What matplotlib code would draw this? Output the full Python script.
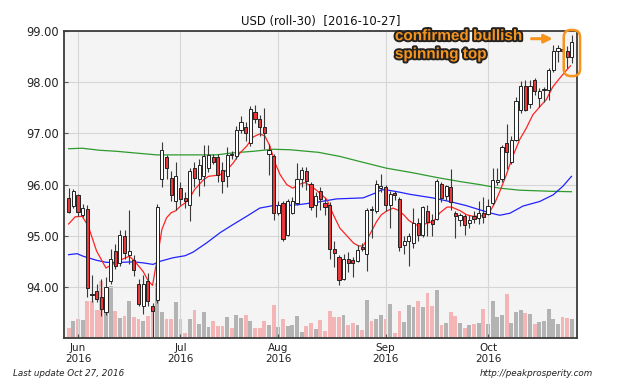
import numpy as np
import pandas as pd
import matplotlib
matplotlib.use('Agg')
import matplotlib.pyplot as plt
import matplotlib.patheffects as pe
from matplotlib.patches import FancyBboxPatch

## daily bars, USD index (roll-30), 2016-05-30 .. 2016-10-27
dates = pd.bdate_range('2016-05-30', '2016-10-27')

opens = [95.74, 95.59, 95.79, 95.40, 95.52, 93.87, 93.92, 93.81, 93.51, 94.12,
         94.71, 94.47, 94.99, 94.63, 94.53, 94.05, 93.63, 94.11, 93.62, 93.74,
         96.10, 96.54, 96.13, 95.67, 95.93, 95.74, 95.61, 96.33, 96.10, 96.16,
         96.32, 96.54, 96.54, 96.29, 96.16, 96.60, 96.55, 97.07, 97.12, 96.81,
         97.41, 97.28, 97.12, 96.60, 96.55, 95.45, 95.64, 95.02, 95.45, 95.64,
         96.10, 96.26, 96.01, 95.61, 95.87, 95.64, 95.60, 94.75, 94.58, 94.15,
         94.54, 94.52, 94.51, 94.78, 94.64, 95.53, 95.48, 95.94, 95.95, 95.61,
         95.84, 95.71, 94.82, 94.89, 94.86, 95.25, 95.01, 95.49, 95.30, 95.32,
         96.01, 95.77, 95.95, 95.45, 95.30, 95.38, 95.24, 95.38, 95.35, 95.44,
         95.43, 95.64, 96.05, 96.10, 96.81, 96.45, 96.88, 97.46, 97.93, 97.57,
         98.05, 97.70, 97.84, 97.85, 98.24, 98.60, 98.64, 98.60, 98.50]
highs = [95.93, 95.92, 95.82, 95.62, 95.61, 94.24, 94.05, 94.15, 94.19, 94.75,
         94.83, 95.12, 95.12, 95.51, 94.62, 94.15, 94.24, 94.28, 93.68, 95.62,
         96.84, 96.58, 96.26, 96.45, 96.05, 95.86, 96.33, 96.45, 96.50, 96.78,
         96.78, 96.60, 96.60, 96.45, 96.74, 96.65, 97.15, 97.33, 97.22, 97.54,
         97.56, 97.35, 97.49, 96.80, 96.60, 95.68, 95.68, 95.72, 95.75, 96.42,
         96.35, 96.35, 96.05, 95.85, 95.95, 95.74, 95.65, 94.90, 94.62, 94.64,
         94.68, 94.58, 94.82, 94.85, 95.54, 95.58, 96.08, 96.20, 96.00, 95.87,
         95.88, 95.75, 95.00, 95.05, 95.55, 95.35, 95.58, 95.60, 95.42, 96.10,
         96.05, 96.00, 96.31, 95.48, 95.45, 95.42, 95.40, 95.49, 95.68, 95.75,
         95.72, 96.32, 96.32, 96.78, 97.18, 96.95, 97.72, 98.03, 98.05, 98.05,
         98.08, 97.88, 97.91, 98.27, 98.73, 98.73, 98.70, 98.70, 98.92]
lows = [95.45, 95.55, 95.38, 95.37, 93.80, 93.70, 93.70, 93.43, 93.46, 94.05,
        94.35, 94.40, 94.55, 94.45, 94.22, 93.62, 93.48, 93.62, 93.02, 93.68,
        95.95, 96.10, 95.68, 95.51, 95.60, 95.55, 95.28, 95.95, 95.78, 95.98,
        96.25, 96.40, 96.05, 95.84, 95.96, 96.50, 96.50, 97.00, 96.86, 96.75,
        97.20, 96.95, 96.70, 96.19, 95.30, 95.40, 94.90, 95.00, 95.42, 95.60,
        95.95, 95.90, 95.50, 95.37, 95.50, 95.40, 94.54, 94.38, 94.04, 94.13,
        94.30, 94.20, 94.48, 94.70, 94.32, 94.95, 95.45, 95.85, 95.48, 95.16,
        95.70, 94.70, 94.65, 94.41, 94.76, 94.90, 94.98, 94.99, 95.00, 95.30,
        95.65, 95.70, 95.50, 94.96, 95.20, 95.01, 95.15, 95.25, 95.22, 95.24,
        95.40, 95.60, 96.00, 96.05, 96.30, 96.40, 96.85, 97.40, 97.43, 97.50,
        97.75, 97.52, 97.61, 97.66, 98.20, 98.40, 98.58, 98.28, 98.37]
closes = [95.47, 95.87, 95.46, 95.55, 93.98, 93.84, 93.77, 93.57, 93.99, 94.55,
          94.41, 95.02, 94.67, 94.70, 94.34, 93.66, 94.05, 93.72, 93.52, 95.56,
          96.68, 96.32, 95.80, 96.16, 95.71, 95.68, 96.26, 96.13, 96.39, 96.56,
          96.58, 96.45, 96.18, 96.06, 96.58, 96.57, 97.07, 97.22, 97.00, 97.48,
          97.28, 97.12, 97.00, 96.67, 95.45, 95.61, 94.94, 95.67, 95.67, 96.10,
          96.29, 96.06, 95.56, 95.77, 95.71, 95.56, 94.75, 94.67, 94.13, 94.54,
          94.47, 94.47, 94.73, 94.74, 95.51, 95.50, 96.01, 95.97, 95.61, 95.81,
          95.80, 94.78, 94.90, 94.99, 95.25, 95.01, 95.56, 95.27, 95.23, 96.07,
          95.74, 95.97, 95.66, 95.38, 95.40, 95.21, 95.30, 95.33, 95.45, 95.36,
          95.58, 96.08, 96.09, 96.73, 96.64, 96.88, 97.64, 97.93, 97.46, 97.93,
          97.82, 97.82, 97.86, 98.24, 98.60, 98.66, 98.61, 98.50, 98.79]
volume = [31, 54, 61, 56, 116, 114, 86, 177, 154, 161,
          84, 64, 69, 114, 66, 59, 52, 69, 84, 170,
          81, 59, 59, 111, 59, 17, 61, 89, 44, 82,
          34, 54, 37, 39, 66, 32, 71, 64, 71, 54,
          32, 32, 52, 41, 102, 34, 61, 39, 41, 69,
          19, 37, 47, 29, 56, 22, 84, 67, 67, 71,
          42, 46, 42, 24, 119, 53, 61, 71, 58, 106,
          17, 84, 51, 102, 98, 115, 96, 140, 100, 151,
          40, 46, 82, 69, 46, 31, 40, 43, 48, 91,
          44, 117, 67, 73, 138, 46, 82, 88, 79, 76,
          44, 49, 53, 90, 58, 44, 67, 64, 59]

ma_fast_x = [0, 1.4, 2.9, 4.2, 6, 8, 9, 11, 13, 14, 16, 17, 18, 19, 20, 21, 22, 23, 24, 25,
             26, 27, 28, 29, 30, 32.5, 34, 35.3, 36.8, 38.2, 39.6, 41, 42.1, 43.2, 44.3,
             45.4, 46.8, 48.1, 49.3, 50.7, 52.2, 53.7, 55.4, 56.8, 58.2, 59.7, 61.1, 62.2,
             63.2, 64.6, 66.1, 67.1, 68.2, 69.6, 70.7, 72, 73, 74.5, 76, 77.2, 78.3, 79.7,
             81.2, 82.2, 84, 85.4, 86.8, 89, 90.4, 91.5, 92.5, 93.8, 95.3, 96.8, 98.2,
             99.6, 101.1, 102.5, 103.9, 105.4, 106.8, 107.7]
ma_fast = [95.23, 95.37, 95.38, 95.19, 94.70, 94.37, 94.42, 94.52, 94.60, 94.52, 94.30, 94.13,
           94.03, 94.55, 95.12, 95.35, 95.45, 95.49, 95.58, 95.64,
           95.74, 95.90, 96.00, 96.10, 96.16, 96.19, 96.29, 96.42, 96.62, 96.75, 96.93, 96.99,
           96.95, 96.75, 96.42, 96.19, 96.00, 95.93, 96.00, 96.04, 95.96, 95.85, 95.71, 95.41,
           95.15, 95.00, 94.86, 94.80, 94.80, 95.02, 95.28, 95.41, 95.48, 95.54, 95.50, 95.40,
           95.30, 95.21, 95.22, 95.25, 95.28, 95.45, 95.56, 95.56, 95.49, 95.41, 95.38, 95.39,
           95.47, 95.65, 95.86, 96.16, 96.55, 96.88, 97.10, 97.36, 97.52, 97.66, 97.91, 98.08,
           98.23, 98.32]
ma_mid_x = [0, 1.8, 3.1, 6, 8.1, 11, 13.9, 16, 18.1, 19.6, 22.4, 25, 26.7, 29.6, 32.5, 35.3,
            38.2, 41, 43.9, 46.8, 49.6, 53.6, 57.5, 63.2, 65.7, 67.2, 68.6, 71.1, 73.2, 75.3,
            78.1, 81.7, 85.3, 88.1, 90.3, 92.5, 94.7, 97.5, 101.1, 104, 106.1, 107.9]
ma_mid = [94.63, 94.65, 94.60, 94.52, 94.48, 94.48, 94.49, 94.47, 94.44, 94.50, 94.57, 94.61,
          94.68, 94.86, 95.06, 95.22, 95.38, 95.54, 95.59, 95.59, 95.61, 95.66, 95.72, 95.74,
          95.83, 95.90, 95.89, 95.85, 95.81, 95.78, 95.74, 95.67, 95.59, 95.51, 95.45, 95.40,
          95.44, 95.58, 95.67, 95.80, 95.97, 96.16]
ma_slow_x = [0, 2.9, 6.7, 10.3, 13.9, 18.9, 25.3, 31.7, 35.3, 39.6, 43.9, 47.5, 53.6, 58.2,
             62.5, 68.2, 73.9, 78.9, 83.9, 88.2, 92.5, 96.8, 103.2, 107.9]
ma_slow = [96.70, 96.71, 96.67, 96.65, 96.62, 96.58, 96.58, 96.58, 96.62, 96.65, 96.69, 96.68,
           96.63, 96.55, 96.45, 96.32, 96.23, 96.14, 96.06, 96.00, 95.93, 95.89, 95.87, 95.86]

y_ticks = [94, 95, 96, 97, 98, 99]

o = np.array(opens)
h = np.array(highs)
l = np.array(lows)
c = np.array(closes)
idx = np.arange(len(dates))
down = c < o

plt.rcParams['font.family'] = 'DejaVu Sans'
fig = plt.figure(figsize=(6.4, 3.84), dpi=100)
ax = fig.add_axes([0.1, 0.1195, 0.8016, 0.7997])
axv = ax.twinx()

# volume goes underneath the candles
ax.set_zorder(axv.get_zorder() + 1)
ax.patch.set_visible(False)
axv.patch.set_visible(True)
axv.set_facecolor('#f4f4f4')
vol_colors = np.where(down, '#f4b5b6', '#b3b3b3')
axv.bar(idx, volume, width=0.82, color=vol_colors, zorder=1)
axv.set_ylim(0, max(volume) * 5.4)
axv.set_yticks([])
for s in axv.spines.values():
    s.set_visible(False)

## grid
ax.grid(True, color='#d6d6d6', linewidth=0.8, zorder=0)
ax.set_axisbelow(True)

## moving averages
ax.plot(ma_slow_x, ma_slow, color='#2e9a2e', linewidth=0.9, zorder=2)
ax.plot(ma_mid_x, ma_mid, color='#2222ff', linewidth=0.9, zorder=2)
ax.plot(ma_fast_x, ma_fast, color='#ff2424', linewidth=0.9, zorder=2)

## candles
ax.vlines(idx, l, h, color='#3a3a3a', linewidth=0.8, zorder=3)
body_lo = np.minimum(o, c)
body_h = np.maximum(np.abs(c - o), 0.025)
body_colors = np.where(down, '#e8383c', 'white')
ax.bar(idx, body_h, bottom=body_lo, width=0.68, color=body_colors,
       edgecolor='#222222', linewidth=0.7, zorder=4)

ax.set_xlim(-1.0, 109.1)
ax.set_ylim(93.0, 99.0)
ax.set_yticks(y_ticks)
ax.set_yticklabels(['%.2f' % v for v in y_ticks], fontsize=8.3, color='#222222')

month_pos = [i for i in range(1, len(dates)) if dates[i].month != dates[i - 1].month]
ax.set_xticks(month_pos)
ax.set_xticklabels([dates[i].strftime('%b\n%Y') for i in month_pos], fontsize=7.5,
                   color='#222222', linespacing=1.1)
ax.tick_params(direction='in', length=3, color='#555555')
for s in ax.spines.values():
    s.set_color('#3c3c3c')
    s.set_linewidth(1.3)

ax.set_title('USD (roll-30)  [2016-10-27]', fontsize=8.4, pad=4, color='#111111')

## annotation
ann = ax.text(0.645, 1.006, 'confirmed bullish\nspinning top', transform=ax.transAxes,
              ha='left', va='top', fontsize=11, fontweight='bold', family='Liberation Sans',
              color='#f7941d', linespacing=1.38, zorder=10,
              path_effects=[pe.withStroke(linewidth=2.8, foreground='#222222')])
ax.annotate('', xy=(0.958, 0.975), xytext=(0.906, 0.975), xycoords='axes fraction',
            arrowprops=dict(arrowstyle='-|>', color='#f7941d', lw=2.2, mutation_scale=12),
            zorder=10)
box = FancyBboxPatch((106.25, 98.12), 3.5, 0.9,
                     boxstyle='round,pad=0,rounding_size=1.5', mutation_aspect=0.092,
                     fill=False, edgecolor='#f7941d', linewidth=1.8, clip_on=False, zorder=10)
ax.add_patch(box)

fig.text(0.02, 0.022, 'Last update Oct 27, 2016', fontsize=6.3, style='italic', color='#222222')
fig.text(0.75, 0.022, 'http://peakprosperity.com', fontsize=6.3, style='italic', color='#222222')

fig.savefig('out.png', dpi=100)
